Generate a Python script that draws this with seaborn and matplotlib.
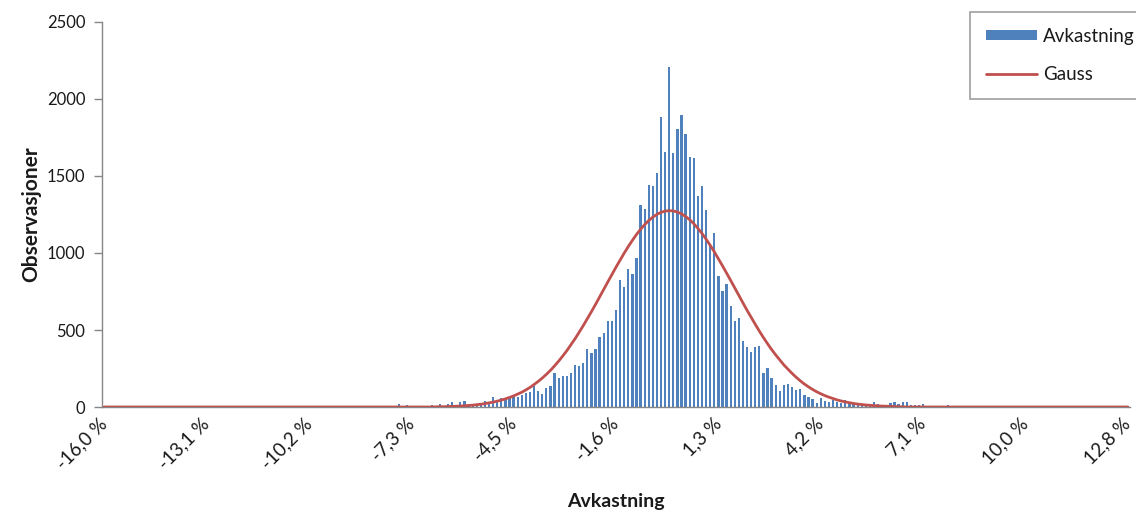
import numpy as np
import pandas as pd
import matplotlib
matplotlib.use("Agg")
import matplotlib.pyplot as plt
from matplotlib.patches import Patch
from matplotlib.lines import Line2D
import seaborn as sns

# Return histogram: 251 bins from -16,0 % to 12,8 %, labelled every 25th bin
N_BINS = 251
TICK_BINS = [0, 25, 50, 75, 100, 125, 150, 175, 200, 225, 250]
TICK_LABELS = ["-16,0 %", "-13,1 %", "-10,2 %", "-7,3 %", "-4,5 %", "-1,6 %",
               "1,3 %", "4,2 %", "7,1 %", "10,0 %", "12,8 %"]

# Sparse tail observations (bin index -> count)
LEFT_TAIL_BINS = [52, 53, 72, 73, 74, 75, 80, 81, 82, 84, 85, 86, 87, 88, 89]
LEFT_TAIL_COUNTS = [8, 6, 17, 8, 15, 8, 15, 8, 22, 22, 33, 10, 30, 37, 12]
RIGHT_TAIL_BINS = [186, 187, 188, 189, 190, 191, 192, 193, 194, 195, 196, 197, 198, 199, 200, 206]
RIGHT_TAIL_COUNTS = [10, 13, 35, 20, 8, 10, 24, 30, 22, 35, 30, 12, 12, 12, 20, 12]

# Dense central part, bins 90..185
CORE_FIRST_BIN = 90
CORE_COUNTS = [
    19, 19, 24, 39, 34, 67, 45, 60, 54, 56,
    63, 67, 78, 89, 99, 136, 106, 82, 121, 136,
    219, 186, 201, 201, 219, 273, 266, 284, 374, 348,
    376, 452, 478, 556, 556, 630, 825, 781, 894, 862,
    968, 1312, 1284, 1441, 1435, 1519, 1885, 1658, 2205, 1647,
    1805, 1894, 1771, 1623, 1614, 1372, 1435, 1279, 1052, 1130,
    853, 752, 799, 656, 561, 575, 431, 387, 354, 388,
    397, 219, 253, 189, 143, 106, 145, 149, 128, 110,
    115, 76, 67, 51, 28, 58, 39, 35, 45, 35,
    28, 45, 24, 19, 26, 17,
]

# Fitted normal curve, bins 81..195 (zero elsewhere)
GAUSS_FIRST_BIN = 81
GAUSS_VALUES = [
    1, 2, 2, 3, 4, 5, 6, 8, 10, 12, 15, 18, 22, 27, 32,
    38, 45, 53, 62, 72, 84, 96, 111, 127, 146,
    166, 188, 212, 238, 267, 298, 331, 366, 404, 443,
    485, 528, 573, 619, 666, 715, 763, 812, 860, 908,
    954, 999, 1042, 1082, 1120, 1154, 1184, 1211, 1233, 1251,
    1264, 1272, 1275, 1273, 1266, 1254, 1237, 1216, 1190, 1160,
    1127, 1090, 1050, 1008, 963, 917, 870, 822, 773, 723,
    676, 628, 582, 537, 493, 451, 411, 373, 338, 305,
    273, 245, 218, 193, 170, 149, 131, 114, 99, 86,
    74, 64, 55, 46, 39, 33, 28,
    23, 19, 16, 13, 11, 9, 7, 6, 5, 4, 3, 2, 1,
]

counts = np.zeros(N_BINS)
counts[LEFT_TAIL_BINS] = LEFT_TAIL_COUNTS
counts[RIGHT_TAIL_BINS] = RIGHT_TAIL_COUNTS
counts[CORE_FIRST_BIN:CORE_FIRST_BIN + len(CORE_COUNTS)] = CORE_COUNTS

gauss = np.zeros(N_BINS)
gauss[GAUSS_FIRST_BIN:GAUSS_FIRST_BIN + len(GAUSS_VALUES)] = GAUSS_VALUES

bins = np.arange(N_BINS)
df = pd.DataFrame({"bin": bins, "count": counts, "gauss": gauss})

BAR_COLOR = "#4F81BD"
LINE_COLOR = "#C0504D"
AXIS_GRAY = "#868686"
TEXT_COLOR = "#1a1a1a"

sns.set_style("white")
plt.rcParams["font.family"] = ["Lato", "DejaVu Sans"]

fig = plt.figure(figsize=(11.36, 5.15), dpi=100)
ax = fig.add_axes([0.0898, 0.2097, 0.9049, 0.7476])

sns.barplot(data=df, x="bin", y="count", native_scale=True, width=0.55,
            color=BAR_COLOR, saturation=1, ax=ax, linewidth=0, zorder=2)
sns.lineplot(data=df, x="bin", y="gauss", color=LINE_COLOR, linewidth=2.0,
             ax=ax, zorder=3)

ax.set_xlim(-0.5, N_BINS - 0.5)
ax.set_ylim(0, 2500)
ax.set_yticks([0, 500, 1000, 1500, 2000, 2500])
ax.set_yticklabels(["0", "500", "1000", "1500", "2000", "2500"],
                   fontsize=12, color=TEXT_COLOR)

ax.set_xticks(TICK_BINS)
ax.set_xticklabels(TICK_LABELS, rotation=45, ha="right", va="center",
                   rotation_mode="anchor", fontsize=13.5, color=TEXT_COLOR)
ax.set_xticks(np.arange(-0.5, N_BINS, 1.0), minor=True)
ax.tick_params(axis="x", which="major", length=0, pad=10)
ax.tick_params(axis="x", which="minor", length=5, width=1, color=AXIS_GRAY, direction="out")
ax.tick_params(axis="y", which="major", length=6, width=1, color=AXIS_GRAY,
               direction="out", pad=6, left=True)

for side in ("top", "right"):
    ax.spines[side].set_visible(False)
for side in ("left", "bottom"):
    ax.spines[side].set_color(AXIS_GRAY)
    ax.spines[side].set_linewidth(1)

ax.set_xlabel("Avkastning", fontsize=14, fontweight="bold", labelpad=15, color=TEXT_COLOR)
ax.set_ylabel("Observasjoner", fontsize=15, fontweight="bold", labelpad=4, color=TEXT_COLOR)

handles = [Patch(facecolor=BAR_COLOR, edgecolor="none", label="Avkastning"),
           Line2D([0], [0], color=LINE_COLOR, linewidth=2.0, label="Gauss")]
leg = fig.legend(handles=handles, loc="upper left", bbox_to_anchor=(0.854, 0.977),
                 bbox_transform=fig.transFigure, frameon=True, fancybox=False,
                 fontsize=13.5, handlelength=2.7, handleheight=0.5,
                 handletextpad=0.35, labelspacing=1.15, borderpad=0.85,
                 borderaxespad=0, labelcolor=TEXT_COLOR)
leg.get_frame().set_edgecolor(AXIS_GRAY)
leg.get_frame().set_linewidth(1.2)

fig.savefig("out.png", dpi=100)
